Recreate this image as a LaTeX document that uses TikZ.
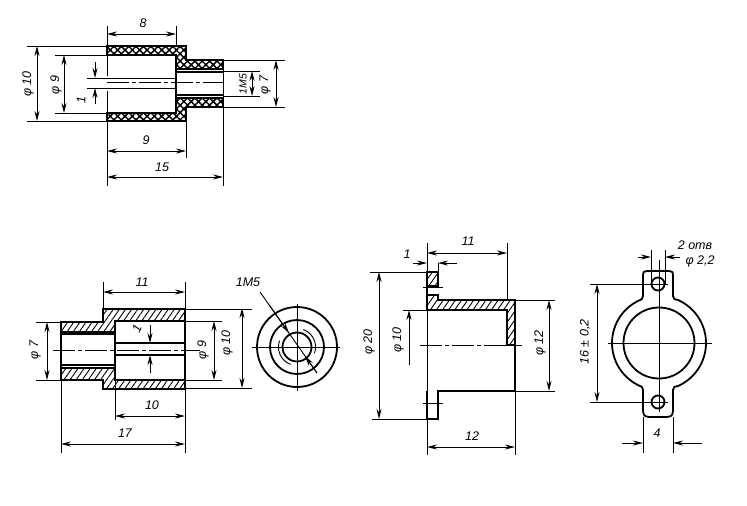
\documentclass[tikz,border=0pt]{standalone}
\usepackage{fontspec}
\setmainfont{Liberation Sans}
\usetikzlibrary{arrows.meta,patterns.meta}
\tikzset{
  thin line/.style={line width=0.9pt},
  outline/.style={line width=1.8pt,line join=miter},
  midline/.style={line width=1.2pt},
  centre/.style={line width=0.9pt,dash pattern=on 22pt off 3pt on 4pt off 3pt},
  dimen/.style={line width=0.9pt,{Stealth[length=10pt,width=5pt]}-{Stealth[length=10pt,width=5pt]}},
  leader/.style={line width=0.9pt,-{Stealth[length=10pt,width=5pt]}},
  cross/.style={outline,pattern={Hatch[angle=45,distance=5.2pt,line width=1.5pt]},pattern color=black},
  hatched/.style={outline,pattern={Lines[angle=55,distance=5pt,line width=0.9pt]},pattern color=black},
  lbl/.style={font=\itshape\fontsize{12.5}{14}\selectfont,inner sep=0pt},
  vlbl/.style={lbl,rotate=90},
  vlblsmall/.style={vlbl,font=\itshape\fontsize{10.5}{12}\selectfont},
}
\begin{document}
\begin{tikzpicture}[x=1pt,y=-1pt]
\useasboundingbox[fill=white] (0,0) rectangle (747,506);

% ---------- Figure 1
\draw[cross] (107,46) -- (186,46) -- (186,60) -- (223,60) -- (223,69) -- (176,69) -- (176,55) -- (107,55) -- cycle;
\draw[cross] (107,121) -- (186,121) -- (186,107) -- (223,107) -- (223,98) -- (176,98) -- (176,113) -- (107,113) -- cycle;
\draw[midline] (176,72) -- (223,72) (176,95) -- (223,95);
\draw[outline] (176,69) -- (176,98);
\draw[thin line] (107,26) -- (107,76) (107,91) -- (107,186);
\draw[thin line] (176,26) -- (176,46) (186,121) -- (186,158) (223,60) -- (223,186);
\draw[thin line] (87,78) -- (176,78) (87,88) -- (176,88);
\draw[centre] (107,82) -- (223,82);
\draw[thin line] (27,46) -- (107,46) (27,121) -- (107,121) (55,55) -- (107,55) (55,113) -- (107,113);
\draw[thin line] (223,60) -- (285,60) (223,107) -- (285,107) (223,71) -- (260,71) (223,96) -- (260,96);
\draw[dimen] (107,34) -- (176,34);
\draw[dimen] (37,46) -- (37,121);
\draw[dimen] (64,55) -- (64,113);
\draw[leader] (95,62) -- (95,78);
\draw[leader] (95,104) -- (95,88);
\draw[dimen] (107,151) -- (186,151);
\draw[dimen] (107,177) -- (223,177);
\draw[dimen] (252,71) -- (252,96);
\draw[dimen] (276,60) -- (276,107);
\node[lbl] (a8) at (143,23) {8};
\node[lbl] (a9) at (146,140) {9};
\node[lbl] (a15) at (162,167) {15};
\node[vlbl] (a1) at (81,100) {1};
\node[vlbl] (ad10) at (28,84) {φ 10};
\node[vlbl] (ad9) at (56,85) {φ 9};
\node[vlblsmall] (am5) at (243,84) {1M5};
\node[vlbl] (ad7) at (265,85) {φ 7};

% ---------- Figure 2
\draw[hatched] (61,322) -- (103,322) -- (103,309) -- (185,309) -- (185,321) -- (115,321) -- (115,332) -- (61,332) -- cycle;
\draw[hatched] (61,380) -- (103,380) -- (103,389) -- (185,389) -- (185,380) -- (115,380) -- (115,368) -- (61,368) -- cycle;
\draw[midline] (61,334) -- (115,334) (61,365) -- (115,365);
\draw[outline] (115,321) -- (115,380) (185,309) -- (185,389);
\draw[outline] (115,343) -- (185,343) (115,355) -- (185,355);
\draw[midline] (61,332) -- (61,368);
\draw[thin line] (103,309) -- (103,282) (185,282) -- (185,453) (115,380) -- (115,420) (61,380) -- (61,453);
\draw[centre] (53,350) -- (200,350);
\draw[thin line] (36,322) -- (61,322) (36,380) -- (61,380);
\draw[thin line] (185,321) -- (222,321) (185,380) -- (222,380) (185,309) -- (252,309) (185,388) -- (252,388);
\draw[dimen] (103,292) -- (185,292);
\draw[dimen] (115,416) -- (185,416);
\draw[dimen] (61,444) -- (185,444);
\draw[dimen] (47,322) -- (47,380);
\draw[dimen] (214,321) -- (214,380);
\draw[dimen] (242,308) -- (242,388);
\draw[leader] (150,325) -- (150,343);
\draw[leader] (150,373) -- (150,355);
\node[lbl] (b11) at (142,282) {11};
\node[lbl] (b10) at (152,405) {10};
\node[lbl] (b17) at (125,433) {17};
\node[lbl,rotate=65] (b1) at (137,329) {1};
\node[vlbl] (bd7) at (35,350) {φ 7};
\node[vlbl] (bd9) at (203,350) {φ 9};
\node[vlbl] (bd10) at (227,343) {φ 10};

% ---------- End view
\coordinate (cv) at (297,347);
\draw[outline] (cv) circle[radius=40];
\draw[outline] (cv) circle[radius=27];
\draw[outline] (cv) circle[radius=14.5];
\draw[thin line] plot[domain=-70:20,samples=20] ({297+18.5*cos(\x)},{347+18.5*sin(\x)});
\draw[thin line] plot[domain=110:200,samples=20] ({297+18.5*cos(\x)},{347+18.5*sin(\x)});
\draw[thin line] (252,347) -- (340,347) (297,304) -- (297,391);
\draw[thin line] (260,292) -- (317,373);
\draw[leader] (270,306) -- (289,333);
\draw[leader] (317,373) -- (305,356);
\node[lbl] (c1m5) at (248,282) {1M5};

% ---------- Figure 3
\draw[hatched] (427,272) -- (438,272) -- (438,286) -- (427,286) -- cycle;
\draw[hatched] (427,295) -- (438,295) -- (438,300) -- (507,300) -- (515,300) -- (515,345) -- (507,345) -- (507,310) -- (427,310) -- cycle;
\draw[outline] (438,300) -- (515,300) -- (515,391) (427,310) -- (507,310) -- (507,345);
\draw[outline] (427,272) -- (427,310) (427,391) -- (427,419) -- (438,419) -- (438,391) -- (515,391);
\draw[thin line] (427,243) -- (427,455) (507,243) -- (507,300) (515,391) -- (515,455) (438,272) -- (438,263);
\draw[thin line] (423,287) -- (443,287) (423,403) -- (443,403);
\draw[centre] (420,345) -- (522,345);
\draw[thin line] (370,272) -- (427,272) (372,419) -- (427,419) (403,310) -- (427,310);
\draw[thin line] (515,300) -- (555,300) (515,391) -- (555,391);
\draw[dimen] (427,253) -- (507,253);
\draw[leader] (413,263) -- (427,263);
\draw[leader] (457,263) -- (438,263);
\draw[dimen] (379,272) -- (379,419);
\draw[leader] (409,365) -- (409,310);
\draw[dimen] (549,300) -- (549,391);
\draw[dimen] (427,447) -- (515,447);
\node[lbl] (d11) at (468,241) {11};
\node[lbl] (d1) at (407,254) {1};
\node[vlbl] (dd20) at (369,342) {φ 20};
\node[vlbl] (dd10) at (398,340) {φ 10};
\node[vlbl] (dd12) at (540,343) {φ 12};
\node[lbl] (d12) at (472,436) {12};

% ---------- Figure 4
\draw[outline,line join=round] (643,275) .. controls (643,272) .. (647,271) -- (669,271) .. controls (673,272) .. (673,275) -- (673,296)
  .. controls (673,299) and (675,300) .. (678,300)
  -- plot[domain=-66:66,samples=40] ({659+47*cos(\x)},{343+47*sin(\x)})
  .. controls (675,386) and (673,387) .. (673,390) -- (673,411) .. controls (672,416) .. (667,417) -- (649,417) .. controls (644,416) .. (643,411) -- (643,390)
  .. controls (643,387) and (641,386) .. (640,386)
  -- plot[domain=114:246,samples=40] ({659+47*cos(\x)},{343+47*sin(\x)})
  .. controls (641,300) and (643,299) .. (643,296) -- cycle;
\coordinate (ce) at (659,343);
\draw[outline] (ce) circle[radius=35.5];
\draw[outline,fill=white] (658,284) circle[radius=6.5];
\draw[outline,fill=white] (658,402) circle[radius=6.5];
\draw[thin line] (659,260) -- (659,412) (608,343) -- (712,343) (648,284) -- (668,284) (648,402) -- (668,402);
\draw[thin line] (651,250) -- (651,284) (665,250) -- (665,284);
\draw[leader] (638,257) -- (651,257);
\draw[leader] (680,257) -- (665,257);
\draw[thin line] (590,284) -- (650,284) (590,402) -- (650,402);
\draw[dimen] (597,284) -- (597,402);
\draw[thin line] (643,417) -- (643,453) (673,417) -- (673,453);
\draw[leader] (622,443) -- (643,443);
\draw[leader] (702,443) -- (673,443);
\node[lbl] (e2) at (695,245) {2 отв};
\node[lbl] (e22) at (700,261) {φ 2,2};
\node[vlbl] (e16) at (585,342) {16 ± 0,2};
\node[lbl] (e4) at (657,433) {4};
\end{tikzpicture}
\end{document}
